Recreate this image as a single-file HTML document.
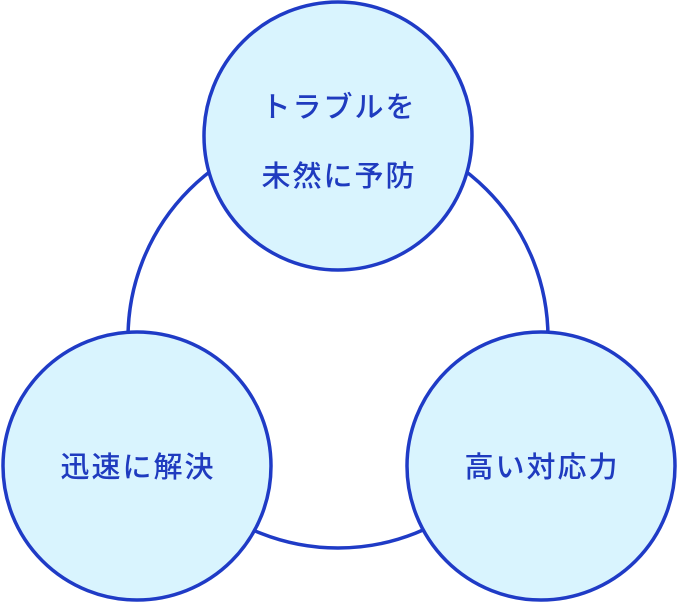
<!DOCTYPE html>
<html><head><meta charset="utf-8"><style>
html,body{margin:0;padding:0;background:#fff;}
svg{display:block}
text{font-family:"Liberation Sans","Noto Sans CJK JP",sans-serif;font-size:29px;font-weight:500;fill:#1f3bbf;letter-spacing:2px}
</style></head><body>
<svg width="678" height="603" viewBox="0 0 678 603">
<circle cx="338" cy="338" r="210" fill="none" stroke="#1f3bc6" stroke-width="3.5"/>
<g fill="#d9f4fe" stroke="#1f3bc6" stroke-width="3.5">
<circle cx="338" cy="136" r="134"/>
<circle cx="137" cy="466" r="134"/>
<circle cx="541" cy="466" r="134"/>
</g>
<text x="339" y="117" text-anchor="middle">トラブルを</text>
<text x="339" y="186" text-anchor="middle">未然に予防</text>
<text x="138" y="477" text-anchor="middle">迅速に解決</text>
<text x="542" y="477" text-anchor="middle">高い対応力</text>
</svg>
</body></html>
